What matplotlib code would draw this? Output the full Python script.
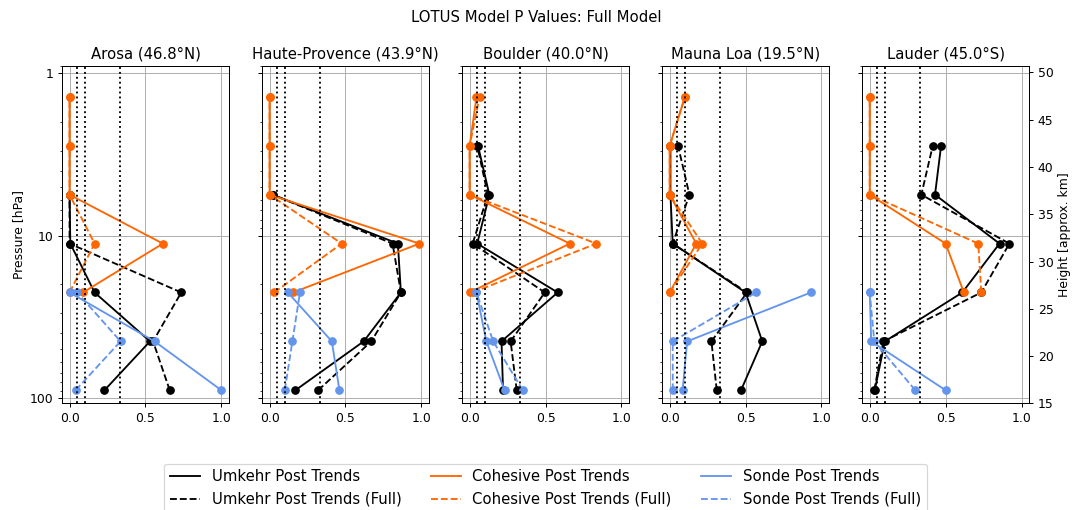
import numpy as np
import matplotlib
matplotlib.use("Agg")
import matplotlib.pyplot as plt
from matplotlib.ticker import ScalarFormatter, NullFormatter
from matplotlib.lines import Line2D

nan = np.nan
# Umkehr layer pressures (hPa), layers 3..9
pressure = [89.6, 44.8, 22.4, 11.2, 5.6, 2.8, 1.4]

stations = ["Arosa (46.8°N)", "Haute-Provence (43.9°N)", "Boulder (40.0°N)",
            "Mauna Loa (19.5°N)", "Lauder (45.0°S)"]

# p-values per station, ordered by pressure list above (bottom -> top)
umkehr = [
    [0.23, 0.53, 0.165, 0.005, 0.0, nan, nan],
    [0.17, 0.62, 0.865, 0.845, 0.02, nan, nan],
    [0.22, 0.21, 0.58, 0.05, 0.13, 0.055, nan],
    [0.47, 0.61, 0.50, 0.02, 0.005, 0.005, nan],
    [0.033, 0.10, 0.61, 0.855, 0.43, 0.47, nan],
]
umkehr_full = [
    [0.66, 0.55, 0.736, 0.0, 0.0, nan, nan],
    [0.32, 0.67, 0.865, 0.81, 0.02, nan, nan],
    [0.31, 0.27, 0.495, 0.02, 0.12, 0.05, nan],
    [0.31, 0.275, 0.51, 0.02, 0.13, 0.055, nan],
    [0.03, 0.09, 0.735, 0.92, 0.34, 0.415, nan],
]
cohesive = [
    [nan, nan, 0.088, 0.615, 0.0, 0.0, 0.0],
    [nan, nan, 0.155, 0.987, 0.0, 0.0, 0.0],
    [nan, nan, 0.0, 0.66, 0.0, 0.0, 0.045],
    [nan, nan, 0.0, 0.175, 0.0, 0.0, 0.10],
    [nan, nan, 0.62, 0.50, 0.0, 0.0, 0.0],
]
cohesive_full = [
    [nan, nan, 0.0, 0.165, 0.0, 0.0, 0.0],
    [nan, nan, 0.03, 0.475, 0.0, 0.0, 0.0],
    [nan, nan, 0.02, 0.835, 0.0, 0.0, 0.065],
    [nan, nan, 0.0, 0.215, 0.0, 0.0, 0.10],
    [nan, nan, 0.735, 0.715, 0.0, 0.0, 0.0],
]
sonde = [
    [1.0, 0.56, 0.0, nan, nan, nan, nan],
    [0.46, 0.41, 0.12, nan, nan, nan, nan],
    [0.23, 0.11, 0.045, nan, nan, nan, nan],
    [0.085, 0.115, 0.93, nan, nan, nan, nan],
    [0.50, 0.01, 0.0, nan, nan, nan, nan],
]
sonde_full = [
    [0.04, 0.336, 0.05, nan, nan, nan, nan],
    [0.10, 0.15, 0.20, nan, nan, nan, nan],
    [0.35, 0.155, 0.045, nan, nan, nan, nan],
    [0.02, 0.02, 0.57, nan, nan, nan, nan],
    [0.30, 0.03, 0.0, nan, nan, nan, nan],
]
thresholds = [0.05, 0.1, 0.33]

BLACK = "black"
ORANGE = "#ff6600"
BLUE = "#6495ed"

DPI = 89
fig, axes = plt.subplots(1, 5, figsize=(1072 / DPI, 510 / DPI), dpi=DPI, sharey=True)
fig.subplots_adjust(left=0.0578, right=0.960, top=0.871, bottom=0.209, wspace=0.198)

series = [
    (umkehr, BLACK, "-", "Umkehr Post Trends"),
    (umkehr_full, BLACK, "--", "Umkehr Post Trends (Full)"),
    (cohesive, ORANGE, "-", "Cohesive Post Trends"),
    (cohesive_full, ORANGE, "--", "Cohesive Post Trends (Full)"),
    (sonde, BLUE, "-", "Sonde Post Trends"),
    (sonde_full, BLUE, "--", "Sonde Post Trends (Full)"),
]

for i, ax in enumerate(axes):
    for data, c, ls, lab in series:
        ax.plot(data[i], pressure, color=c, linestyle=ls, marker="o", label=lab)
    for t in thresholds:
        ax.axvline(t, color="black", linestyle=":", lw=1.5)
    ax.set_yscale("log")
    ax.set_ylim(108, 0.9)
    ax.set_xlim(-0.05, 1.05)
    ax.set_xticks([0.0, 0.5, 1.0])
    ax.grid(True)
    ax.set_title(stations[i], fontsize=12)
    ax.yaxis.set_major_formatter(ScalarFormatter())
    ax.yaxis.set_minor_formatter(NullFormatter())

axes[0].set_ylabel("Pressure [hPa]")

tw = axes[-1].twinx()
tw.set_ylim(15, 50.7)
tw.set_yticks(np.arange(15, 51, 5))
tw.set_ylabel("Height [approx. km]")

fig.suptitle("LOTUS Model P Values: Full Model")

handles, labels = axes[0].get_legend_handles_labels()
lh = [Line2D([], [], color=h.get_color(), linestyle=h.get_linestyle()) for h in handles]
axes[2].legend(lh, labels, loc="upper center", bbox_to_anchor=(0.5, -0.178),
               borderaxespad=0.0, ncol=3, fontsize=12)

fig.savefig("out.png", dpi=DPI)
